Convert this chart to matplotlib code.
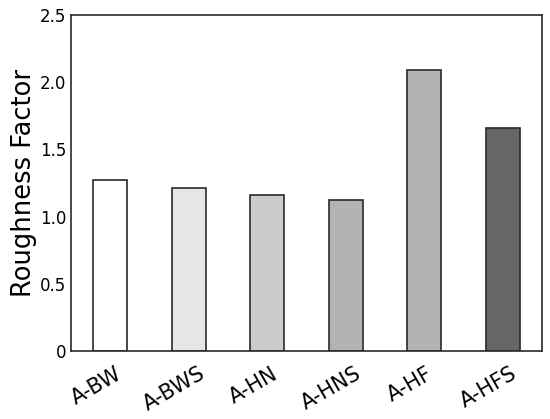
import numpy as np
from matplotlib import pyplot as plt

samples = ['A-BW', 'A-BWS', 'A-HN', 'A-HNS', 'A-HF', 'A-HFS']
roughness = [1.27, 1.21, 1.16, 1.12, 2.09, 1.66]
shades = ['#ffffff', '#e6e6e6', '#cccccc', '#b3b3b3', '#b3b3b3', '#666666']

fig = plt.figure(figsize=(5.5, 4.19), dpi=100)
ax = fig.add_axes([71/550, 1-351/419, 471/550, 336/419])

x = np.arange(len(samples))
ax.bar(x, roughness, width=0.43, color=shades, edgecolor='#2a2a2a', linewidth=1.2)

ax.set_xlim(-0.5, 5.5)
ax.set_ylim(0, 2.5)
ax.set_yticks([0, 0.5, 1.0, 1.5, 2.0, 2.5])
ax.set_yticklabels(['0', '0.5', '1.0', '1.5', '2.0', '2.5'], fontsize=12)
# labels sit a bit left of the bars in the original
ax.set_xticks(x - 0.18)
ax.set_xticklabels(samples, rotation=30, fontsize=15, ha='center')
ax.tick_params(axis='y', length=0, pad=3.5)
ax.tick_params(axis='x', length=0, pad=9)
ax.set_ylabel('Roughness Factor', fontsize=18.5, labelpad=2)
for s in ax.spines.values():
    s.set_color('#2a2a2a')
    s.set_linewidth(1.2)

fig.savefig('out.png', dpi=100)
